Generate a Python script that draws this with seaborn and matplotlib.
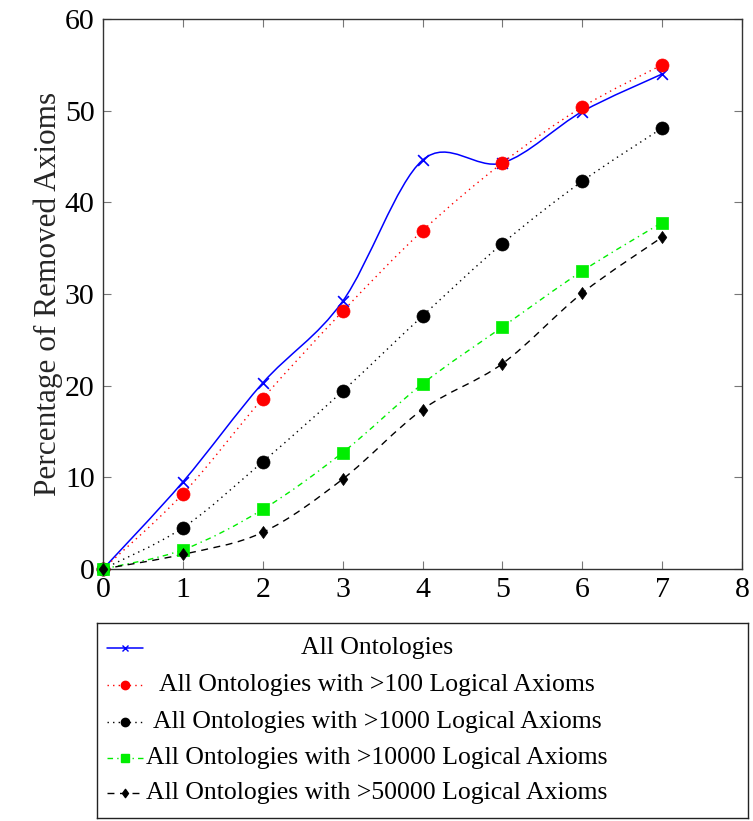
import numpy as np
import pandas as pd
import matplotlib
matplotlib.use('Agg')
import matplotlib.pyplot as plt
import seaborn as sns
from matplotlib.path import Path
from matplotlib.patches import PathPatch
from matplotlib.lines import Line2D

# Data
steps = [0, 1, 2, 3, 4, 5, 6, 7]
all_onto   = [0, 9.5, 20.3, 29.2, 44.6, 44.3, 49.9, 54.0]
over_100   = [0, 8.2, 18.6, 28.1, 36.9, 44.3, 50.4, 55.0]
over_1000  = [0, 4.5, 11.7, 19.4, 27.6, 35.5, 42.3, 48.1]
over_10000 = [0, 2.1, 6.5, 12.7, 20.2, 26.4, 32.5, 37.8]
over_50000 = [0, 1.6, 4.0, 9.8, 17.4, 22.4, 30.1, 36.2]

labels = ['All Ontologies',
          'All Ontologies with >100 Logical Axioms',
          'All Ontologies with >1000 Logical Axioms',
          'All Ontologies with >10000 Logical Axioms',
          'All Ontologies with >50000 Logical Axioms']
series = [all_onto, over_100, over_1000, over_10000, over_50000]

# pgfplots-like diamond (a bit wider than matplotlib's 'd')
diamond = Path([(0, 1), (0.72, 0), (0, -1), (-0.72, 0), (0, 1)],
               [Path.MOVETO, Path.LINETO, Path.LINETO, Path.LINETO, Path.CLOSEPOLY])

# styles: color, linestyle, marker, marker area, line width
styles = [
    ('#0000ff', '-',               'x',     60, 1.1),
    ('#ff0000', (0, (1, 3)),       'o',     88, 1.0),
    ('#000000', (0, (1, 3)),       'o',     88, 1.0),
    ('#00ee00', (0, (4, 3, 1, 3)), 's',     78, 1.0),
    ('#000000', (0, (5, 4)),       diamond, 75, 1.0),
]

sns.set_theme(style='ticks')
plt.rcParams['font.family'] = ['Liberation Serif', 'DejaVu Serif']

W, H = 753, 821
fig = plt.figure(figsize=(W / 100, H / 100), dpi=100)
ax = fig.add_axes([103 / W, 1 - 569 / H, (742 - 103) / W, (569 - 19) / H])


def smooth_path(xs, ys, k=0.165):
    # pgfplots-style "smooth": cubic Bezier through the data points
    pts = np.column_stack([xs, ys]).astype(float)
    n = len(pts)
    verts = [pts[0]]
    codes = [Path.MOVETO]
    for i in range(n - 1):
        p_prev = pts[max(i - 1, 0)]
        p_next2 = pts[min(i + 2, n - 1)]
        c1 = pts[i] + k * (pts[i + 1] - p_prev)
        c2 = pts[i + 1] - k * (p_next2 - pts[i])
        verts += [c1, c2, pts[i + 1]]
        codes += [Path.CURVE4] * 3
    return Path(verts, codes)


rows = []
for lab, vals in zip(labels, series):
    for s, v in zip(steps, vals):
        rows.append({'step': s, 'pct': v, 'series': lab})
df = pd.DataFrame(rows)

for (lab, vals), (col, ls, mk, ms, lw) in zip(zip(labels, series), styles):
    patch = PathPatch(smooth_path(steps, vals), facecolor='none', edgecolor=col,
                      linestyle=ls, linewidth=lw, zorder=2)
    ax.add_patch(patch)
    sub = df[df['series'] == lab]
    if isinstance(mk, str) and mk == 'x':
        sns.scatterplot(data=sub, x='step', y='pct', ax=ax, marker='x', s=ms,
                        color=col, linewidth=1.2, zorder=3, clip_on=False, legend=False)
    else:
        sns.scatterplot(data=sub, x='step', y='pct', ax=ax, marker=mk, s=ms,
                        color=col, edgecolor=col, linewidth=0.5, zorder=3,
                        clip_on=False, legend=False)

ax.set_xlim(0, 8)
ax.set_ylim(0, 60)
ax.set_xticks(range(0, 9))
ax.set_yticks(range(0, 61, 10))
ax.set_xlabel('')
ax.set_ylabel('Percentage of Removed Axioms', fontsize=22.5, labelpad=1)
ax.tick_params(direction='in', length=6, width=0.8, color='#777777',
               top=True, right=True, labelsize=21.5, pad=6, labelcolor='black')
for sp in ax.spines.values():
    sp.set_visible(True)
    sp.set_linewidth(1.0)
    sp.set_color('#333333')

# legend box (pgfplots-like, centered text)
lax = fig.add_axes([97 / W, 1 - 818 / H, (748 - 97) / W, (818 - 623) / H])
lax.set_xlim(97, 748)
lax.set_ylim(818, 623)
lax.set_xticks([])
lax.set_yticks([])
for sp in lax.spines.values():
    sp.set_linewidth(1.0)
    sp.set_color('#222222')
row_y = [648, 685, 722, 758, 793]
for y, lab, (col, ls, mk, ms, lw) in zip(row_y, labels, styles):
    lax.add_line(Line2D([107, 143], [y, y], color=col, linestyle=ls, linewidth=lw))
    is_x = isinstance(mk, str) and mk == 'x'
    lax.add_line(Line2D([125], [y], marker=mk, color=col,
                        markersize=5 if is_x else 6,
                        markeredgewidth=1.0, linestyle='none'))
    lax.text(377, y, lab, ha='center', va='center', fontsize=18.5, color='black')

fig.savefig('out.png', dpi=100)
